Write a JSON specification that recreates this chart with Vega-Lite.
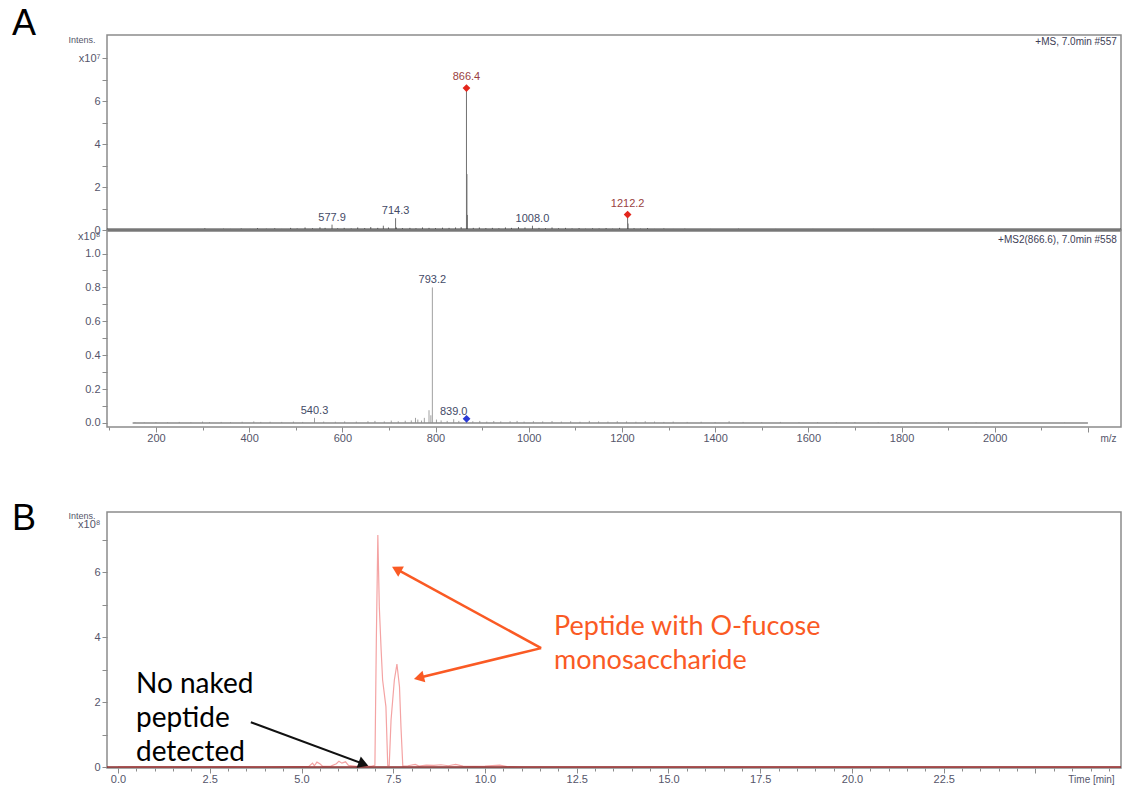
{
"$schema": "https://vega.github.io/schema/vega-lite/v6.json",
"background": "white",
"padding": {"left": 11, "top": 5, "right": 0, "bottom": 0},
"config": {
  "font": "Liberation Sans",
  "view": {"stroke": "#8c8c8c", "strokeWidth": 1.5},
  "axis": {"grid": false, "domain": false, "labelFont": "Liberation Sans", "labelFontSize": 11, "labelColor": "#55556a", "tickColor": "#8c8c8c", "tickWidth": 1, "tickSize": 5, "labelPadding": 2, "labelOverlap": false, "labelFlush": false, "titleFont": "Liberation Sans", "titleFontWeight": "normal", "titleColor": "#55556a"}
},
"datasets": {
  "ms1": [
    {"mz":150,"i":0.02},{"mz":180,"i":0.03},{"mz":205,"i":0.02},{"mz":240,"i":0.04},{"mz":262,"i":0.03},{"mz":290,"i":0.05},{"mz":305,"i":0.08},{"mz":322,"i":0.04},{"mz":345,"i":0.06},{"mz":360,"i":0.05},{"mz":383,"i":0.07},{"mz":402,"i":0.05},{"mz":418,"i":0.09},{"mz":437,"i":0.06},{"mz":455,"i":0.08},{"mz":470,"i":0.05},{"mz":489,"i":0.1},{"mz":503,"i":0.07},{"mz":520,"i":0.12},{"mz":536,"i":0.08},{"mz":552,"i":0.13},{"mz":563,"i":0.1},{"mz":577.9,"i":0.25},{"mz":590,"i":0.08},{"mz":604,"i":0.1},{"mz":619,"i":0.07},{"mz":633,"i":0.12},{"mz":648,"i":0.09},{"mz":661,"i":0.14},{"mz":676,"i":0.1},{"mz":688,"i":0.2},{"mz":699,"i":0.12},{"mz":714.3,"i":0.55},{"mz":716,"i":0.12},{"mz":729,"i":0.09},{"mz":745,"i":0.1},{"mz":758,"i":0.08},{"mz":772,"i":0.12},{"mz":786,"i":0.1},{"mz":800,"i":0.09},{"mz":815,"i":0.11},{"mz":829,"i":0.1},{"mz":843,"i":0.12},{"mz":855,"i":0.14},{"mz":866.4,"i":6.6},{"mz":867.4,"i":2.6},{"mz":868.4,"i":0.7},{"mz":881,"i":0.1},{"mz":894,"i":0.12},{"mz":908,"i":0.09},{"mz":922,"i":0.1},{"mz":936,"i":0.08},{"mz":950,"i":0.12},{"mz":963,"i":0.1},{"mz":978,"i":0.14},{"mz":992,"i":0.12},{"mz":1008.0,"i":0.2},{"mz":1022,"i":0.1},{"mz":1036,"i":0.09},{"mz":1050,"i":0.12},{"mz":1064,"i":0.08},{"mz":1079,"i":0.1},{"mz":1093,"i":0.07},{"mz":1108,"i":0.09},{"mz":1122,"i":0.06},{"mz":1137,"i":0.08},{"mz":1151,"i":0.07},{"mz":1166,"i":0.09},{"mz":1180,"i":0.06},{"mz":1195,"i":0.1},{"mz":1212.2,"i":0.72},{"mz":1213.2,"i":0.3},{"mz":1226,"i":0.08},{"mz":1240,"i":0.06},{"mz":1255,"i":0.09},{"mz":1270,"i":0.05},{"mz":1290,"i":0.07},{"mz":1310,"i":0.05},{"mz":1335,"i":0.06},{"mz":1360,"i":0.04},{"mz":1390,"i":0.05},{"mz":1420,"i":0.04},{"mz":1450,"i":0.06},{"mz":1490,"i":0.04},{"mz":1530,"i":0.05},{"mz":1570,"i":0.03},{"mz":1610,"i":0.05},{"mz":1650,"i":0.04},{"mz":1700,"i":0.03},{"mz":1740,"i":0.05},{"mz":1800,"i":0.03},{"mz":1860,"i":0.02},{"mz":1950,"i":0.03},{"mz":2050,"i":0.02},{"mz":2150,"i":0.02}
  ],
  "ms1lab": [
    {"mz":866.4,"i":6.6,"label":"866.4","kind":"d"},
    {"mz":1212.2,"i":0.72,"label":"1212.2","kind":"d"},
    {"mz":577.9,"i":0.25,"label":"577.9","kind":"p"},
    {"mz":714.3,"i":0.55,"label":"714.3","kind":"p"},
    {"mz":1008.0,"i":0.2,"label":"1008.0","kind":"p"}
  ],
  "base1": [{"mz":95,"mz2":2271,"i":0}],
  "hdr1": [{"mz":2262,"i":8.74,"label":"+MS, 7.0min #557"}],
  "tagA": [{"mz":-83,"i":9.07,"label":"A"}],
  "ms2": [
    {"mz":155,"i":0.004},{"mz":175,"i":0.003},{"mz":200,"i":0.005},{"mz":225,"i":0.004},{"mz":250,"i":0.006},{"mz":275,"i":0.004},{"mz":300,"i":0.008},{"mz":315,"i":0.005},{"mz":340,"i":0.006},{"mz":360,"i":0.005},{"mz":385,"i":0.007},{"mz":410,"i":0.009},{"mz":425,"i":0.006},{"mz":445,"i":0.007},{"mz":470,"i":0.006},{"mz":495,"i":0.008},{"mz":515,"i":0.006},{"mz":540.3,"i":0.03},{"mz":560,"i":0.008},{"mz":585,"i":0.007},{"mz":605,"i":0.009},{"mz":630,"i":0.008},{"mz":655,"i":0.01},{"mz":670,"i":0.012},{"mz":690,"i":0.009},{"mz":705,"i":0.014},{"mz":720,"i":0.01},{"mz":735,"i":0.013},{"mz":748,"i":0.015},{"mz":757,"i":0.03},{"mz":762,"i":0.02},{"mz":770,"i":0.014},{"mz":776,"i":0.03},{"mz":786,"i":0.075},{"mz":790,"i":0.045},{"mz":793.2,"i":0.8},{"mz":802,"i":0.02},{"mz":812,"i":0.015},{"mz":825,"i":0.012},{"mz":839.0,"i":0.022},{"mz":850,"i":0.012},{"mz":866.6,"i":0.008},{"mz":880,"i":0.01},{"mz":895,"i":0.012},{"mz":910,"i":0.008},{"mz":925,"i":0.011},{"mz":940,"i":0.009},{"mz":960,"i":0.01},{"mz":975,"i":0.012},{"mz":990,"i":0.008},{"mz":1010,"i":0.01},{"mz":1030,"i":0.009},{"mz":1050,"i":0.011},{"mz":1070,"i":0.008},{"mz":1090,"i":0.01},{"mz":1110,"i":0.007},{"mz":1130,"i":0.012},{"mz":1150,"i":0.009},{"mz":1170,"i":0.008},{"mz":1190,"i":0.01},{"mz":1210,"i":0.009},{"mz":1230,"i":0.007},{"mz":1250,"i":0.01},{"mz":1270,"i":0.008},{"mz":1290,"i":0.006},{"mz":1310,"i":0.008},{"mz":1340,"i":0.006},{"mz":1370,"i":0.007},{"mz":1400,"i":0.005},{"mz":1430,"i":0.01},{"mz":1460,"i":0.006},{"mz":1500,"i":0.005},{"mz":1540,"i":0.006},{"mz":1580,"i":0.004},{"mz":1620,"i":0.005},{"mz":1660,"i":0.004},{"mz":1700,"i":0.005},{"mz":1750,"i":0.004},{"mz":1800,"i":0.003},{"mz":1880,"i":0.003},{"mz":1960,"i":0.003},{"mz":2050,"i":0.002},{"mz":2150,"i":0.002}
  ],
  "ms2lab": [
    {"mz":793.2,"i":0.8,"label":"793.2","kind":"p"},
    {"mz":540.3,"i":0.03,"label":"540.3","kind":"p"},
    {"mz":839.0,"i":0.022,"label":"839.0","kind":"p"},
    {"mz":866.6,"i":0.024,"label":"","kind":"d"}
  ],
  "base2": [{"mz":150,"mz2":2200,"i":0}],
  "hdr2": [{"mz":2262,"i":1.08,"label":"+MS2(866.6), 7.0min #558"}],
  "eic": [
    {"t":0,"v":0},{"t":1,"v":0.005},{"t":2,"v":0},{"t":3,"v":0.005},{"t":4,"v":0},{"t":4.8,"v":0.01},{"t":5.2,"v":0.02},{"t":5.3,"v":0.12},{"t":5.35,"v":0.04},{"t":5.42,"v":0.15},{"t":5.5,"v":0.1},{"t":5.58,"v":0.02},{"t":5.8,"v":0.03},{"t":5.95,"v":0.1},{"t":6.02,"v":0.18},{"t":6.1,"v":0.12},{"t":6.2,"v":0.16},{"t":6.28,"v":0.05},{"t":6.5,"v":0.02},{"t":6.7,"v":0.03},{"t":6.9,"v":0.02},{"t":7.0,"v":0.05},{"t":7.04,"v":4.0},{"t":7.08,"v":7.14},{"t":7.12,"v":4.93},{"t":7.17,"v":3.6},{"t":7.21,"v":2.68},{"t":7.3,"v":1.86},{"t":7.35,"v":0.05},{"t":7.39,"v":0.05},{"t":7.44,"v":1.45},{"t":7.53,"v":2.68},{"t":7.6,"v":3.17},{"t":7.67,"v":2.47},{"t":7.71,"v":1.24},{"t":7.76,"v":0.03},{"t":7.9,"v":0.04},{"t":8.1,"v":0.08},{"t":8.2,"v":0.03},{"t":8.4,"v":0.06},{"t":8.6,"v":0.05},{"t":8.8,"v":0.07},{"t":9.0,"v":0.04},{"t":9.2,"v":0.08},{"t":9.4,"v":0.03},{"t":9.7,"v":0.02},{"t":10.0,"v":0.03},{"t":10.4,"v":0.06},{"t":10.6,"v":0.01},{"t":11,"v":0},{"t":15,"v":0},{"t":20,"v":0},{"t":27.3,"v":0}
  ],
  "base3": [{"t":-0.3,"t2":27.33,"v":0}],
  "arrows": [
    {"t":11.53,"v":3.66,"t2":7.59,"v2":6.09,"c":"o"},
    {"t":11.53,"v":3.66,"t2":8.2,"v2":2.75,"c":"o"},
    {"t":3.62,"v":1.38,"t2":6.69,"v2":0.095,"c":"k"}
  ],
  "heads": [
    {"t":7.59,"v":6.09,"c":"o1"},
    {"t":8.2,"v":2.75,"c":"o2"},
    {"t":6.69,"v":0.095,"c":"k"}
  ],
  "notes": [
    {"t":11.88,"v":4.7,"label":"Peptide with O-fucose\nmonosaccharide","c":"o"},
    {"t":0.49,"v":2.95,"label":"No naked\npeptide\ndetected","c":"k"}
  ],
  "tagB": [{"t":-2.56,"v":7.29,"label":"B"}]
},
"spacing": 56,
"vconcat": [
  {
    "spacing": 0,
    "bounds": "flush",
    "vconcat": [
      {
        "width": 1014,
        "height": 195,
        "encoding": {
          "x": {"field": "mz", "type": "quantitative", "scale": {"domain": [95, 2271], "nice": false, "zero": false}, "axis": null},
          "y": {"field": "i", "type": "quantitative", "scale": {"domain": [0, 9.07], "nice": false, "zero": false},
                "axis": {"title": "Intens.", "titleAngle": 0, "titleAlign": "right", "titleBaseline": "middle", "titleX": -12, "titleY": 4, "titleFontSize": 9,
                         "values": [0,1,2,3,4,5,6,7,8],
                         "labelExpr": "datum.value == 8 ? 'x10⁷' : (datum.value % 2 == 0 ? datum.label : '')"}}
        },
        "layer": [
          {"data": {"name": "ms1"}, "mark": {"type": "rule", "color": "#707070", "strokeWidth": 1}, "encoding": {"y2": {"datum": 0}}},
          {"data": {"name": "base1"}, "mark": {"type": "rule", "color": "#3a3a3a", "strokeWidth": 3}, "encoding": {"x2": {"field": "mz2"}}},
          {"data": {"name": "ms1lab"}, "transform": [{"filter": "datum.kind == 'd'"}], "mark": {"type": "point", "shape": "diamond", "filled": true, "color": "#e3261c", "opacity": 1, "size": 60}, "encoding": {}},
          {"data": {"name": "ms1lab"}, "transform": [{"filter": "datum.kind == 'd'"}], "mark": {"type": "text", "baseline": "bottom", "dy": -6, "fontSize": 11, "color": "#9a3f3f"}, "encoding": {"text": {"field": "label", "type": "nominal"}}},
          {"data": {"name": "ms1lab"}, "transform": [{"filter": "datum.kind == 'p'"}], "mark": {"type": "text", "baseline": "bottom", "dy": -2, "fontSize": 11, "color": "#434a66"}, "encoding": {"text": {"field": "label", "type": "nominal"}}},
          {"data": {"name": "hdr1"}, "mark": {"type": "text", "align": "right", "baseline": "middle", "fontSize": 10, "color": "#3d3d55"}, "encoding": {"text": {"field": "label", "type": "nominal"}}},
          {"data": {"name": "tagA"}, "mark": {"type": "text", "align": "center", "baseline": "alphabetic", "fontSize": 36, "color": "#000000"}, "encoding": {"text": {"field": "label", "type": "nominal"}}}
        ]
      },
      {
        "width": 1014,
        "height": 197,
        "encoding": {
          "x": {"field": "mz", "type": "quantitative", "scale": {"domain": [95, 2271], "nice": false, "zero": false},
                "axis": {"title": "m/z", "titleX": 1001, "titleY": 11, "titleAlign": "center", "titleBaseline": "middle", "titleFontSize": 10,
                         "values": [100,200,300,400,500,600,700,800,900,1000,1100,1200,1300,1400,1500,1600,1700,1800,1900,2000,2100,2200],
                         "format": "d", "labelPadding": 0,
                         "labelExpr": "datum.value % 200 == 0 && datum.value <= 2000 ? datum.label : ''",
                         "tickSize": {"condition": {"test": "datum.value % 200 == 0", "value": 5}, "value": 3}}},
          "y": {"field": "i", "type": "quantitative", "scale": {"domain": [-0.024, 1.139], "nice": false, "zero": false},
                "axis": {"title": null, "values": [0,0.1,0.2,0.3,0.4,0.5,0.6,0.7,0.8,0.9,1.0,1.1], "format": ".1f",
                         "labelExpr": "datum.value > 1.05 ? 'x10⁸' : (round(datum.value*10) % 2 == 0 ? datum.label : '')",
                         "tickOpacity": {"condition": {"test": "datum.value > 1.05", "value": 0}, "value": 1}}}
        },
        "layer": [
          {"data": {"name": "ms2"}, "mark": {"type": "rule", "color": "#a0a0a0", "strokeWidth": 1}, "encoding": {"y2": {"datum": 0}}},
          {"data": {"name": "base2"}, "mark": {"type": "rule", "color": "#8a8a8a", "strokeWidth": 1.5}, "encoding": {"x2": {"field": "mz2"}}},
          {"data": {"name": "ms2lab"}, "transform": [{"filter": "datum.kind == 'd'"}], "mark": {"type": "point", "shape": "diamond", "filled": true, "color": "#2a3ad6", "opacity": 1, "size": 60}, "encoding": {}},
          {"data": {"name": "ms2lab"}, "transform": [{"filter": "datum.kind == 'p'"}], "mark": {"type": "text", "baseline": "bottom", "dy": -2, "fontSize": 11, "color": "#434a66"}, "encoding": {"text": {"field": "label", "type": "nominal"}}},
          {"data": {"name": "hdr2"}, "mark": {"type": "text", "align": "right", "baseline": "middle", "fontSize": 10, "color": "#3d3d55"}, "encoding": {"text": {"field": "label", "type": "nominal"}}}
        ]
      }
    ]
  },
  {
    "width": 1014,
    "height": 256,
    "encoding": {
      "x": {"field": "t", "type": "quantitative", "scale": {"domain": [-0.3, 27.33], "nice": false, "zero": false},
            "axis": {"title": "Time [min]", "titleX": 984, "titleY": 11, "titleAlign": "center", "titleBaseline": "middle", "titleFontSize": 10,
                     "values": [0,0.5,1,1.5,2,2.5,3,3.5,4,4.5,5,5.5,6,6.5,7,7.5,8,8.5,9,9.5,10,10.5,11,11.5,12,12.5,13,13.5,14,14.5,15,15.5,16,16.5,17,17.5,18,18.5,19,19.5,20,20.5,21,21.5,22,22.5,23,23.5,24,24.5,25,25.5,26,26.5,27],
                     "format": ".1f", "labelPadding": 0,
                     "labelExpr": "round(datum.value*2) % 5 == 0 && datum.value <= 22.5 ? datum.label : ''",
                     "tickSize": {"condition": {"test": "round(datum.value*2) % 5 == 0", "value": 5}, "value": 3}}},
      "y": {"field": "v", "type": "quantitative", "scale": {"domain": [-0.03, 7.85], "nice": false, "zero": false},
            "axis": {"title": "Intens.", "titleAngle": 0, "titleAlign": "right", "titleBaseline": "middle", "titleX": -12, "titleY": 3, "titleFontSize": 9,
                     "values": [0,1,2,3,4,5,6,7,7.45],
                     "labelExpr": "datum.value == 7.45 ? 'x10⁸' : (datum.value % 2 == 0 ? datum.label : '')",
                     "tickOpacity": {"condition": {"test": "datum.value == 7.45", "value": 0}, "value": 1}}}
    },
    "layer": [
      {"data": {"name": "eic"}, "mark": {"type": "line", "color": "#f4a3a3", "strokeWidth": 1.2}, "encoding": {}},
      {"data": {"name": "base3"}, "mark": {"type": "rule", "color": "#8b2b2b", "strokeWidth": 1.5}, "encoding": {"x2": {"field": "t2"}}},
      {"data": {"name": "arrows"}, "transform": [{"filter": "datum.c == 'o'"}], "mark": {"type": "rule", "color": "#fa5a24", "strokeWidth": 2.5}, "encoding": {"x2": {"field": "t2"}, "y2": {"field": "v2"}}},
      {"data": {"name": "arrows"}, "transform": [{"filter": "datum.c == 'k'"}], "mark": {"type": "rule", "color": "#111111", "strokeWidth": 2}, "encoding": {"x2": {"field": "t2"}, "y2": {"field": "v2"}}},
      {"data": {"name": "heads"}, "transform": [{"filter": "datum.c == 'o1'"}], "mark": {"type": "point", "shape": "triangle-right", "filled": true, "opacity": 1, "color": "#fa5a24", "size": 140, "angle": 208.7}, "encoding": {}},
      {"data": {"name": "heads"}, "transform": [{"filter": "datum.c == 'o2'"}], "mark": {"type": "point", "shape": "triangle-right", "filled": true, "opacity": 1, "color": "#fa5a24", "size": 140, "angle": 166.4}, "encoding": {}},
      {"data": {"name": "heads"}, "transform": [{"filter": "datum.c == 'k'"}], "mark": {"type": "point", "shape": "triangle-right", "filled": true, "opacity": 1, "color": "#111111", "size": 140, "angle": 20.4}, "encoding": {}},
      {"data": {"name": "notes"}, "transform": [{"filter": "datum.c == 'o'"}], "mark": {"type": "text", "align": "left", "baseline": "top", "font": "Lato", "fontSize": 27, "lineBreak": "\n", "lineHeight": 34, "color": "#fa5a24"}, "encoding": {"text": {"field": "label", "type": "nominal"}}},
      {"data": {"name": "notes"}, "transform": [{"filter": "datum.c == 'k'"}], "mark": {"type": "text", "align": "left", "baseline": "top", "font": "Lato", "fontSize": 28, "lineBreak": "\n", "lineHeight": 34, "color": "#000000"}, "encoding": {"text": {"field": "label", "type": "nominal"}}},
      {"data": {"name": "tagB"}, "mark": {"type": "text", "align": "center", "baseline": "alphabetic", "fontSize": 36, "color": "#000000"}, "encoding": {"text": {"field": "label", "type": "nominal"}}}
    ]
  }
]
}
